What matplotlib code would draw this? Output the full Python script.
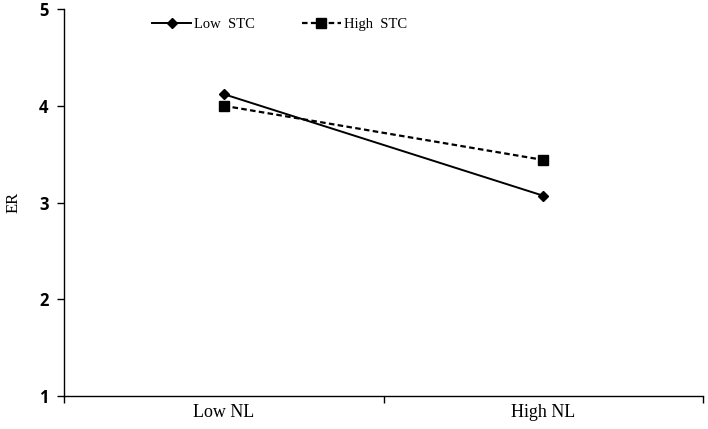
import matplotlib
matplotlib.use('Agg')
import matplotlib.pyplot as plt

# Data
categories = ['Low NL', 'High NL']
low_stc = [4.12, 3.07]
high_stc = [4.00, 3.44]
y_ticks = [1, 2, 3, 4, 5]

serif = 'Liberation Serif'

fig = plt.figure(figsize=(7.08, 4.29), dpi=100)
ax = fig.add_axes([64 / 708, 1 - 396 / 429, (703 - 64) / 708, (396 - 9) / 429])

x = [0.5, 1.5]
ax.plot(x, low_stc, color='black', linestyle='-', linewidth=1.4,
        marker='D', markersize=5, label='Low  STC')
ax.plot(x, high_stc, color='black', linestyle=(0, (2.5, 1.5)), linewidth=1.6,
        marker='s', markersize=7, label='High  STC')

ax.set_xlim(0, 2)
ax.set_ylim(1, 5)
ax.set_yticks(y_ticks)
ax.set_yticklabels([str(t) for t in y_ticks], fontfamily='Open Sans',
                   fontweight='bold', fontsize=12)
ax.set_xticks([0, 1, 2])
ax.set_xticklabels([])
ax.set_xticks(x, minor=True)
ax.set_xticklabels(categories, minor=True, fontfamily=serif, fontsize=13)
ax.tick_params(axis='x', which='minor', length=0, pad=6)
ax.tick_params(axis='x', which='major', length=5, direction='out', width=1)
ax.tick_params(axis='y', length=5, direction='out', width=1, pad=6)

for side in ['top', 'right']:
    ax.spines[side].set_visible(False)
for side in ['left', 'bottom']:
    ax.spines[side].set_linewidth(1)

ax.set_ylabel('ER', fontfamily=serif, fontsize=12, labelpad=13)

ax.legend(loc='upper left', bbox_to_anchor=(0.117, 1.012), ncol=2, frameon=False,
          prop={'family': serif, 'size': 10.5}, handlelength=2.7,
          handletextpad=0.2, columnspacing=3.2)

fig.savefig('out.png', dpi=100)
